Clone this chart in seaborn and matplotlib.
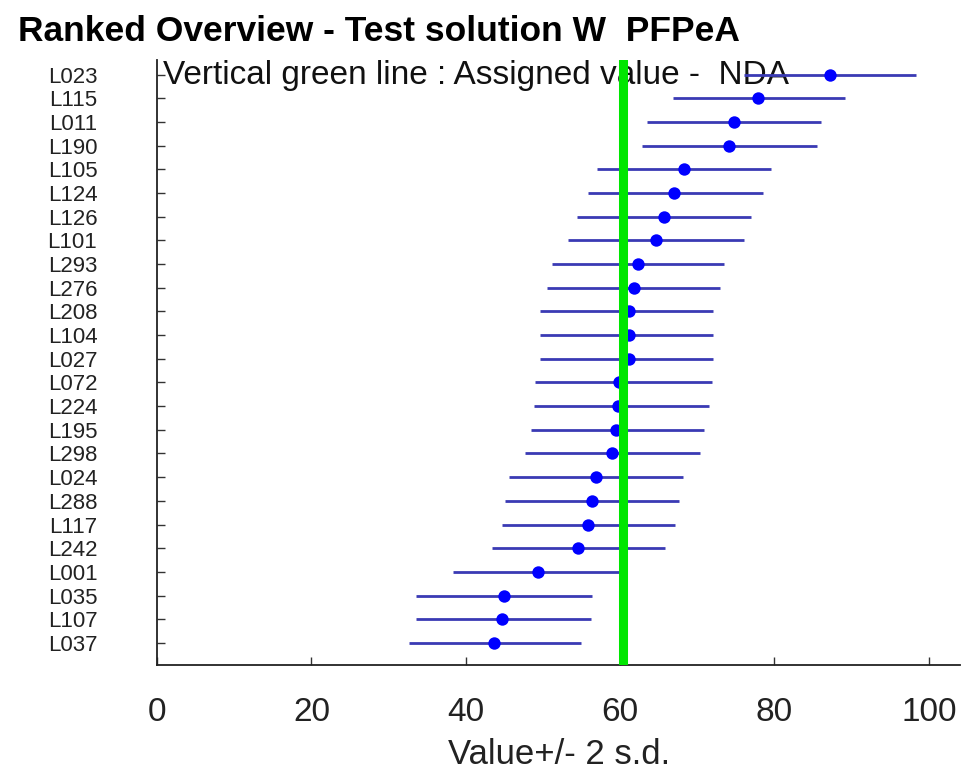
import matplotlib
matplotlib.use("Agg")
import matplotlib.pyplot as plt
import numpy as np
import pandas as pd
import seaborn as sns

# labs ranked from highest to lowest value
labs = ["L023", "L115", "L011", "L190", "L105", "L124", "L126", "L101", "L293",
        "L276", "L208", "L104", "L027", "L072", "L224", "L195", "L298", "L024",
        "L288", "L117", "L242", "L001", "L035", "L107", "L037"]
values = [87.2, 77.9, 74.8, 74.1, 68.3, 67.0, 65.7, 64.7, 62.3,
          61.8, 61.2, 61.2, 61.2, 59.8, 59.7, 59.5, 59.0, 56.9,
          56.4, 55.9, 54.6, 49.4, 45.0, 44.7, 43.7]
low = [76.0, 66.8, 63.5, 62.8, 57.0, 55.8, 54.4, 53.3, 51.2,
       50.5, 49.6, 49.6, 49.6, 49.0, 48.8, 48.5, 47.7, 45.6,
       45.1, 44.7, 43.4, 38.3, 33.6, 33.6, 32.6]
high = [98.4, 89.2, 86.0, 85.5, 79.5, 78.5, 77.0, 76.0, 73.5,
        73.0, 72.1, 72.1, 72.1, 71.9, 71.5, 70.9, 70.3, 68.2,
        67.6, 67.1, 65.8, 60.5, 56.3, 56.2, 55.0]
assigned = 60.4
x_ticks = [0, 20, 40, 60, 80, 100]

df = pd.DataFrame({"lab": labs, "value": values, "low": low, "high": high})

sns.set_style("white")
plt.rcParams["font.family"] = ["Liberation Sans", "DejaVu Sans"]

fig = plt.figure(figsize=(9.61, 7.75), dpi=100)
ax = fig.add_axes([0.1634, 0.142, 0.836, 0.781])

pos = np.arange(len(df))
ax.hlines(pos, df["low"], df["high"], color="#3a3ab4", linewidth=2, zorder=2)
sns.scatterplot(data=df, x="value", y="lab", ax=ax, color="#0000ff", marker="o",
                s=80, edgecolor="#0000ff", linewidth=0, zorder=3, legend=False)
ax.axvline(assigned, color="#00e600", linewidth=6.5, zorder=4)

ax.set_xlim(0, 104.1)
ax.set_ylim(len(df) - 1 + 0.93, -0.63)
ax.set_xticks(x_ticks)
ax.set_xticklabels([str(t) for t in x_ticks])
ax.tick_params(axis="x", bottom=True, direction="in", length=6, width=1, pad=23,
               labelsize=24, colors="#333333", labelcolor="#222222")
ax.tick_params(axis="y", left=True, direction="in", length=6, width=1, pad=43,
               labelsize=16, colors="#333333", labelcolor="#222222")
for lbl in ax.get_yticklabels():
    lbl.set_horizontalalignment("right")

ax.set_xlabel("Value+/- 2 s.d.", fontsize=25, color="#222222", labelpad=7)
ax.set_ylabel("")

for side in ["top", "right"]:
    ax.spines[side].set_visible(False)
for side in ["left", "bottom"]:
    ax.spines[side].set_color("#222222")
    ax.spines[side].set_linewidth(1.3)

ax.text(0.008, 1.0, "Vertical green line : Assigned value -  NDA",
        transform=ax.transAxes, fontsize=24, va="top", ha="left",
        color="#111111", zorder=1)

fig.text(18 / 961, 1 - 41 / 775, "Ranked Overview - Test solution W  PFPeA",
         fontsize=25.5, fontweight="bold", ha="left", va="baseline", color="#000000")

fig.savefig("out.png", dpi=100)
